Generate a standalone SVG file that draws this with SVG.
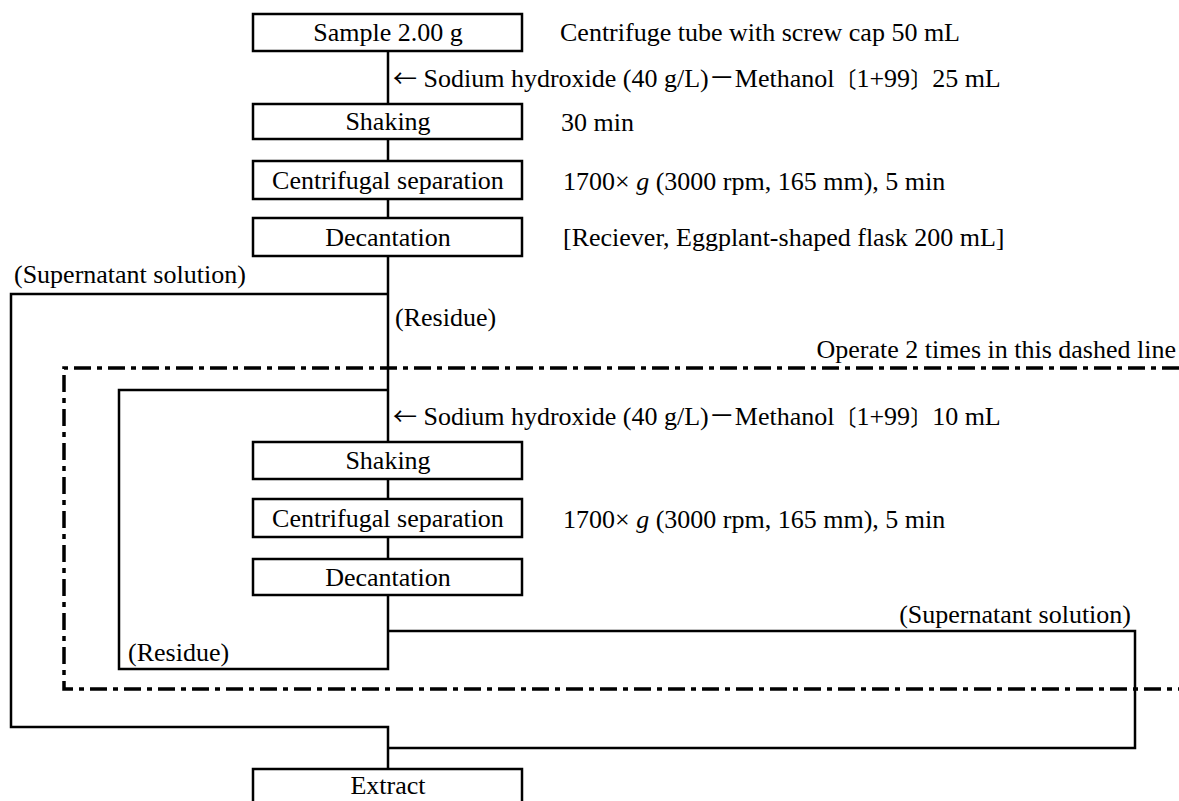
<svg xmlns="http://www.w3.org/2000/svg" width="1179" height="801" viewBox="0 0 1179 801">
<style>
text{font-family:'Liberation Serif','Times New Roman',serif;font-size:26px;fill:#000}
.cjk{font-family:'Liberation Serif','Noto Sans CJK JP',serif}
.br{font-family:'Noto Sans CJK JP',sans-serif;font-size:22px}
.arr{font-family:'Noto Sans CJK JP',sans-serif;font-size:24px}
.c{text-anchor:middle}
.e{text-anchor:end}
.box{fill:#fff;stroke:#000;stroke-width:2.5}
.ln{fill:none;stroke:#000;stroke-width:2.5}
.dash{fill:none;stroke:#000;stroke-width:3.5;stroke-dasharray:17 6 5 6}
</style>
<rect width="1179" height="801" fill="#fff"/>
<g id="connectors">
<path class="ln" d="M388,51V104M388,139V161M388,199V218M388,256V442M388,479V499M388,537V559M388,595V669H119V390H388"/>
<path class="ln" d="M388,294H11V727H388V769"/>
<path class="ln" d="M388,631H1135V748H388"/>
</g>
<path id="repeat-region" class="dash" d="M1179,368H64V689H1179"/>
<g id="n1"><rect class="box" x="253" y="14" width="269" height="37"/><text class="c" x="388" y="41">Sample 2.00 g</text></g>
<g id="n2"><rect class="box" x="253" y="104" width="269" height="35"/><text class="c" x="388" y="130">Shaking</text></g>
<g id="n3"><rect class="box" x="253" y="161" width="269" height="38"/><text class="c" x="388" y="189">Centrifugal separation</text></g>
<g id="n4"><rect class="box" x="253" y="218" width="269" height="38"/><text class="c" x="388" y="246">Decantation</text></g>
<g id="n5"><rect class="box" x="253" y="442" width="269" height="37"/><text class="c" x="388" y="469">Shaking</text></g>
<g id="n6"><rect class="box" x="253" y="499" width="269" height="38"/><text class="c" x="388" y="527">Centrifugal separation</text></g>
<g id="n7"><rect class="box" x="253" y="559" width="269" height="36"/><text class="c" x="388" y="586">Decantation</text></g>
<g id="n8"><rect class="box" x="253" y="769" width="269" height="40"/><text class="c" x="388" y="794">Extract</text></g>
<g id="labels">
<text x="560" y="41">Centrifuge tube with screw cap 50 mL</text>
<text x="393" y="87"><tspan class="arr">←</tspan> Sodium hydroxide (40 g/L)<tspan class="cjk">－</tspan>Methanol<tspan class="br">〔</tspan>1+99<tspan class="br">〕</tspan>25 mL</text>
<text x="561" y="131">30 min</text>
<text x="563" y="190">1700× <tspan font-style="italic">g</tspan> (3000 rpm, 165 mm), 5 min</text>
<text x="563" y="246">[Reciever, Eggplant-shaped flask 200 mL]</text>
<text x="14" y="283">(Supernatant solution)</text>
<text x="395" y="326">(Residue)</text>
<text class="e" x="1176" y="358">Operate 2 times in this dashed line</text>
<text x="393" y="425"><tspan class="arr">←</tspan> Sodium hydroxide (40 g/L)<tspan class="cjk">－</tspan>Methanol<tspan class="br">〔</tspan>1+99<tspan class="br">〕</tspan>10 mL</text>
<text x="563" y="528">1700× <tspan font-style="italic">g</tspan> (3000 rpm, 165 mm), 5 min</text>
<text class="e" x="1131" y="623">(Supernatant solution)</text>
<text x="128" y="661">(Residue)</text>
</g>
</svg>
